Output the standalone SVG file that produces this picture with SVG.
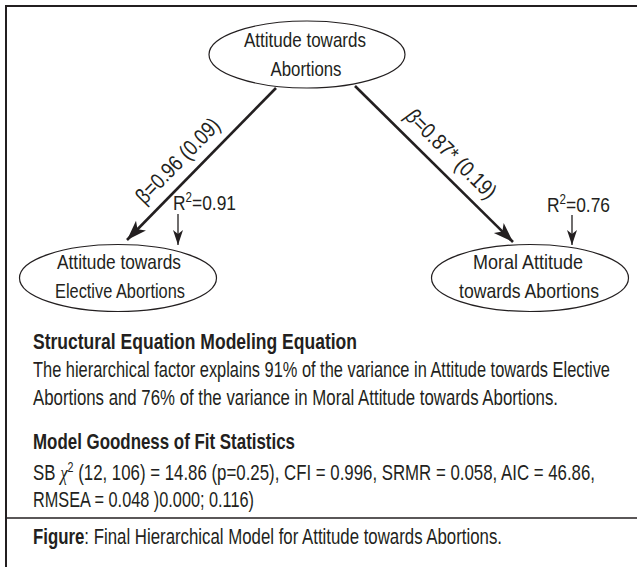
<svg xmlns="http://www.w3.org/2000/svg" width="637" height="567" viewBox="0 0 637 567">
<style>
text{font-family:"Liberation Sans Narrow","Liberation Sans",Arial,sans-serif;fill:#231f20;font-size:22px}
.b{font-weight:bold}
.n{font-size:21px}
.node ellipse{fill:#fff;stroke:#231f20;stroke-width:1.2}
.big{stroke:#231f20;stroke-width:2.6;fill:none}
.small{stroke:#231f20;stroke-width:1.3;fill:none}
.frame{stroke:#231f20;fill:none}
</style>
<defs>
<marker id="ab" markerUnits="userSpaceOnUse" markerWidth="22" markerHeight="16" refX="20" refY="8" orient="auto">
<path d="M0,1 L20,8 L0,15 L5,8 z" fill="#231f20"/>
</marker>
<marker id="as" markerUnits="userSpaceOnUse" markerWidth="16" markerHeight="12" refX="15" refY="6" orient="auto">
<path d="M0,1 L15,6 L0,11 L4,6 z" fill="#231f20"/>
</marker>
</defs>
<rect width="637" height="567" fill="#fff"/>
<g id="frame">
<line class="frame" x1="5" y1="6" x2="637" y2="6" stroke-width="2"/>
<line class="frame" x1="6" y1="5" x2="6" y2="567" stroke-width="2"/>
<line class="frame" x1="6" y1="518" x2="637" y2="518" stroke-width="1.5"/>
</g>
<g id="connectors">
<line class="big" x1="276" y1="88" x2="127" y2="240" marker-end="url(#ab)"/>
<line class="big" x1="355" y1="86" x2="513" y2="242" marker-end="url(#ab)"/>
<line class="small" x1="178" y1="214" x2="178" y2="245" marker-end="url(#as)"/>
<line class="small" x1="572" y1="215" x2="572" y2="245" marker-end="url(#as)"/>
<text x="183" y="166" text-anchor="middle" transform="rotate(-45.6 183 166)" textLength="110" lengthAdjust="spacingAndGlyphs" font-size="20">β=0.96 (0.09)</text>
<text x="446" y="159" text-anchor="middle" transform="rotate(44.6 446 159)" textLength="118" lengthAdjust="spacingAndGlyphs" font-size="20"><tspan font-style="italic">β</tspan>=0.87* (0.19)</text>
<text class="n" x="173" y="210" textLength="63" lengthAdjust="spacingAndGlyphs">R<tspan dy="-8" font-size="14">2</tspan><tspan dy="8">=0.91</tspan></text>
<text class="n" x="547" y="212" textLength="63" lengthAdjust="spacingAndGlyphs">R<tspan dy="-8" font-size="14">2</tspan><tspan dy="8">=0.76</tspan></text>
</g>
<g id="n-top" class="node">
<ellipse cx="307" cy="54.5" rx="98" ry="33.5"/>
<text class="n" x="305" y="47" text-anchor="middle" textLength="122" lengthAdjust="spacingAndGlyphs">Attitude towards</text>
<text class="n" x="306" y="76" text-anchor="middle" textLength="71" lengthAdjust="spacingAndGlyphs">Abortions</text>
</g>
<g id="n-left" class="node">
<ellipse cx="118" cy="278" rx="98.5" ry="33.5"/>
<text class="n" x="119" y="269" text-anchor="middle" textLength="124" lengthAdjust="spacingAndGlyphs">Attitude towards</text>
<text class="n" x="120" y="298" text-anchor="middle" textLength="130" lengthAdjust="spacingAndGlyphs">Elective Abortions</text>
</g>
<g id="n-right" class="node">
<ellipse cx="530" cy="278" rx="98.5" ry="33.5"/>
<text class="n" x="528" y="269" text-anchor="middle" textLength="110" lengthAdjust="spacingAndGlyphs">Moral Attitude</text>
<text class="n" x="529" y="298" text-anchor="middle" textLength="140" lengthAdjust="spacingAndGlyphs">towards Abortions</text>
</g>
<g id="notes">
<text class="b" x="33" y="349" textLength="324" lengthAdjust="spacingAndGlyphs">Structural Equation Modeling Equation</text>
<text x="33" y="377" textLength="577" lengthAdjust="spacingAndGlyphs">The hierarchical factor explains 91% of the variance in Attitude towards Elective</text>
<text x="33" y="405" textLength="525" lengthAdjust="spacingAndGlyphs">Abortions and 76% of the variance in Moral Attitude towards Abortions.</text>
<text class="b" x="33" y="449" textLength="262" lengthAdjust="spacingAndGlyphs">Model Goodness of Fit Statistics</text>
<text x="33" y="480" textLength="562" lengthAdjust="spacingAndGlyphs">SB <tspan font-family="'Liberation Serif',serif" font-style="italic">χ</tspan><tspan dy="-8" font-size="14">2</tspan><tspan dy="8"> (12, 106) = 14.86 (p=0.25), CFI = 0.996, SRMR = 0.058, AIC = 46.86,</tspan></text>
<text x="33" y="507" textLength="221" lengthAdjust="spacingAndGlyphs">RMSEA = 0.048 )0.000; 0.116)</text>
<text x="33" y="544" textLength="469" lengthAdjust="spacingAndGlyphs"><tspan class="b">Figure</tspan>: Final Hierarchical Model for Attitude towards Abortions.</text>
</g>
</svg>
